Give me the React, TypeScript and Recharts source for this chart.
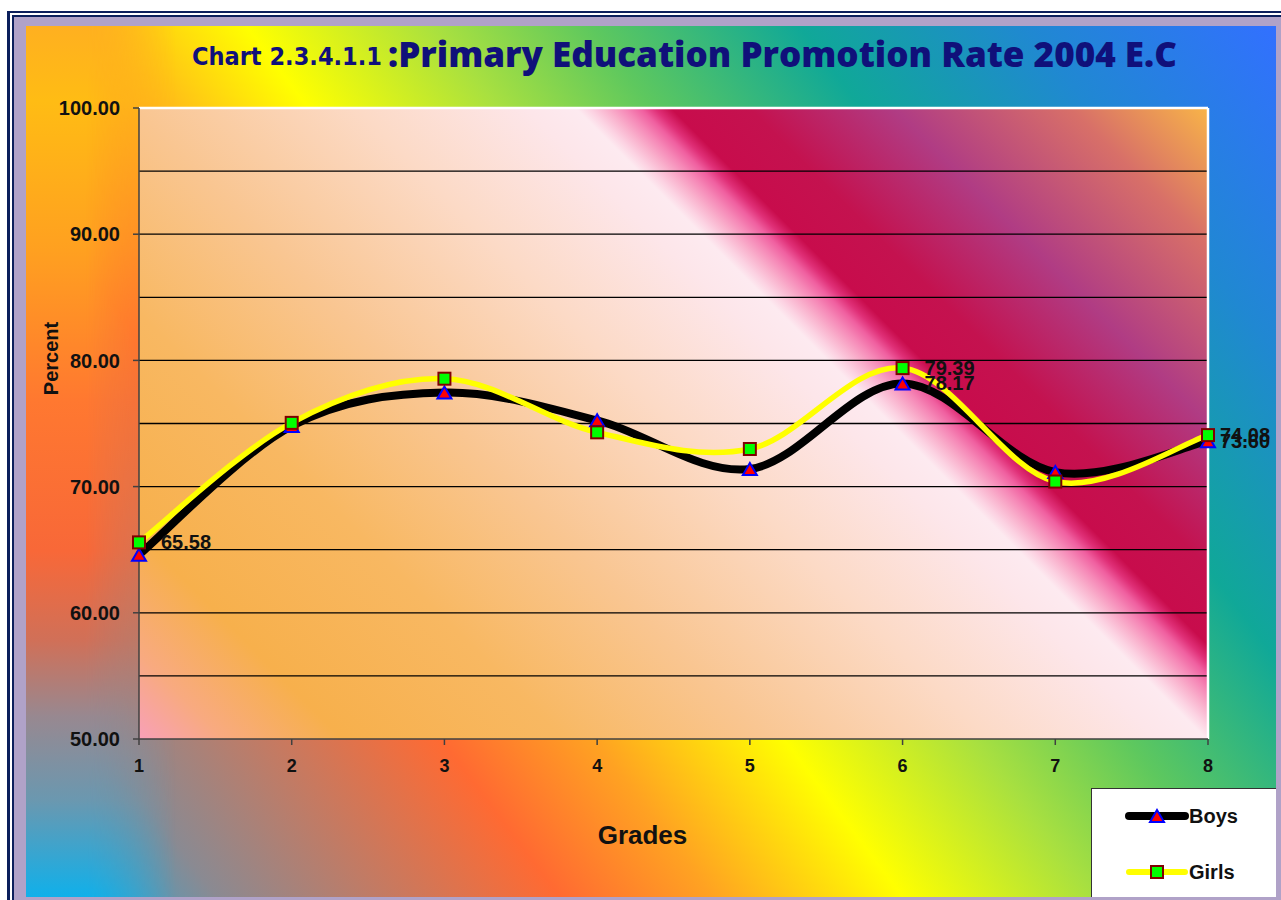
import React from 'react';
import { LineChart, Line, XAxis, YAxis, CartesianGrid, ReferenceLine, LabelList } from 'recharts';

// ---------- data ----------
const grades = [1, 2, 3, 4, 5, 6, 7, 8];
const boys = [64.6, 74.8, 77.45, 75.25, 71.4, 78.17, 71.15, 73.6];
const girls = [65.58, 75.05, 78.55, 74.3, 72.98, 79.39, 70.4, 74.08];
const yTicks = [50, 60, 70, 80, 90, 100];
const gridValues = [55, 60, 65, 70, 75, 80, 85, 90, 95];
const boysLabeled = [6, 8];
const girlsLabeled = [1, 6, 8];
const titleSmall = 'Chart 2.3.4.1.1';
const titleBig = ':Primary Education Promotion Rate 2004 E.C';

const data = grades.map((g, i) => ({ grade: g, boys: boys[i], girls: girls[i] }));

// ---------- styles ----------
const FONT = '"Liberation Sans", Arial, sans-serif';
const NAVY = '#10107a';
const W = 1281;
const H = 900;
const CHART_RIGHT = 1276;

// Excel-like smoothed line (Catmull-Rom as cubic Bezier)
const excelCurve = (context: any) => {
  let pts: [number, number][] = [];
  return {
    areaStart() {},
    areaEnd() {},
    lineStart() {
      pts = [];
    },
    point(x: number, y: number) {
      pts.push([+x, +y]);
    },
    lineEnd() {
      const n = pts.length;
      if (!n) return;
      context.moveTo(pts[0][0], pts[0][1]);
      for (let i = 0; i < n - 1; i++) {
        const p0 = pts[Math.max(i - 1, 0)];
        const p1 = pts[i];
        const p2 = pts[i + 1];
        const p3 = pts[Math.min(i + 2, n - 1)];
        context.bezierCurveTo(
          p1[0] + (p2[0] - p0[0]) / 6,
          p1[1] + (p2[1] - p0[1]) / 6,
          p2[0] - (p3[0] - p1[0]) / 6,
          p2[1] - (p3[1] - p1[1]) / 6,
          p2[0],
          p2[1]
        );
      }
    },
  };
};

const Triangle = ({ cx, cy }: { cx: number; cy: number }) => (
  <polygon
    points={`${cx},${cy - 6} ${cx - 7},${cy + 6} ${cx + 7},${cy + 6}`}
    fill="#ff0000"
    stroke="#0000ff"
    strokeWidth={2}
    strokeLinejoin="miter"
  />
);
const Square = ({ cx, cy }: { cx: number; cy: number }) => (
  <rect x={cx - 6} y={cy - 6} width={12} height={12} fill="#00ff00" stroke="#800000" strokeWidth={2} />
);

const renderTriangleDot = (props: any) => {
  const { cx, cy, index } = props;
  if (cx == null || cy == null) return <g key={`bt-${index}`} />;
  return <Triangle key={`bt-${index}`} cx={cx} cy={cy} />;
};
const renderSquareDot = (props: any) => {
  const { cx, cy, index } = props;
  if (cx == null || cy == null) return <g key={`gs-${index}`} />;
  return <Square key={`gs-${index}`} cx={cx} cy={cy} />;
};

const makeLabel = (labeled: number[]) => (props: any) => {
  const { x, y, value, index } = props;
  if (!labeled.includes(grades[index])) return null;
  const tx = Math.min(x + 22, CHART_RIGHT - 56);
  return (
    <text x={tx} y={y + 7} fontFamily={FONT} fontWeight="bold" fontSize={20} fill="#111">
      {Number(value).toFixed(2)}
    </text>
  );
};

const legendItems = [
  { name: 'Boys', color: '#000000', width: 8, marker: 'tri' },
  { name: 'Girls', color: '#ffff00', width: 6, marker: 'sq' },
];

const LegendBox = () => (
  <div
    style={{
      position: 'absolute',
      left: 1091,
      top: 788,
      width: 185,
      height: 109,
      background: '#ffffff',
      borderLeft: '1.5px solid #333',
      borderTop: '1.5px solid #333',
      boxSizing: 'border-box',
    }}
  >
    <svg width={184} height={108} style={{ display: 'block' }}>
      {legendItems.map((it, i) => {
        const y = 27 + i * 56;
        return (
          <g key={it.name}>
            <line x1={37} x2={93} y1={y} y2={y} stroke={it.color} strokeWidth={it.width} strokeLinecap="round" />
            {it.marker === 'tri' ? <Triangle cx={65} cy={y} /> : <Square cx={65} cy={y} />}
            <text x={97} y={y + 7} fontFamily={FONT} fontWeight="bold" fontSize={20} fill="#111">
              {it.name}
            </text>
          </g>
        );
      })}
    </svg>
  </div>
);

const outerGradient =
  'linear-gradient(53deg, #10b0ea 0%, #8a8a92 10%, #ff6a32 28%, #ffa222 36%, #ffff00 46%, #a8e040 56%, #5ec85e 64%, #10a898 75%, #2088d2 87%, #3270ff 100%)';

const leftStripGradient =
  'linear-gradient(to bottom, #ffb020 0px, #ffbc14 75px, #ffa020 225px, #ff7830 375px, #f86838 525px, #d07058 615px, #988890 690px, #6a98b0 775px, #10b0ea 871px)';

export default function App() {
  return (
    <div style={{ position: 'absolute', left: 0, top: 0, width: W, height: H, background: '#ffffff', overflow: 'hidden' }}>
      <div
        style={{
          position: 'absolute',
          left: 7,
          top: 11,
          right: -20,
          bottom: -20,
          borderLeft: '3px solid #0b1f5c',
          borderTop: '2px solid #0b1f5c',
        }}
      />
      <div
        style={{
          position: 'absolute',
          left: 12,
          top: 15,
          right: -20,
          bottom: -20,
          borderLeft: '2px solid #0b1f5c',
          borderTop: '2px solid #0b1f5c',
        }}
      />
      <div style={{ position: 'absolute', left: 14, top: 17, right: 0, bottom: 0, background: '#b0a2c8' }} />
      <div style={{ position: 'absolute', left: 26, top: 26, width: 1250, height: 871, background: outerGradient }} />
      <div
        style={{
          position: 'absolute',
          left: 26,
          top: 26,
          width: 150,
          height: 871,
          background: leftStripGradient,
          WebkitMaskImage: 'linear-gradient(to right, #000 0px, #000 60px, rgba(0,0,0,0) 150px)',
          maskImage: 'linear-gradient(to right, #000 0px, #000 60px, rgba(0,0,0,0) 150px)',
        }}
      />

      <svg width={0} height={0} style={{ position: 'absolute' }}>
        <defs>
          <linearGradient id="plotGrad" gradientUnits="userSpaceOnUse" x1={139} y1={739} x2={989} y2={-111}>
            <stop offset="0" stopColor="#f8a0b8" />
            <stop offset="0.05" stopColor="#f8aa80" />
            <stop offset="0.12" stopColor="#f7b04c" />
            <stop offset="0.25" stopColor="#f8b862" />
            <stop offset="0.37" stopColor="#f9c692" />
            <stop offset="0.5" stopColor="#fcdac6" />
            <stop offset="0.6" stopColor="#fde6ea" />
            <stop offset="0.628" stopColor="#fdeaf0" />
            <stop offset="0.636" stopColor="#fcd2e2" />
            <stop offset="0.646" stopColor="#f9b0cc" />
            <stop offset="0.656" stopColor="#f68ab8" />
            <stop offset="0.666" stopColor="#f060a0" />
            <stop offset="0.674" stopColor="#e03078" />
            <stop offset="0.684" stopColor="#c80c4c" />
            <stop offset="0.73" stopColor="#c4124f" />
            <stop offset="0.815" stopColor="#b03c84" />
            <stop offset="0.92" stopColor="#d87068" />
            <stop offset="1" stopColor="#f8b448" />
          </linearGradient>
        </defs>
      </svg>

      <div style={{ position: 'absolute', left: 0, top: 0 }}>
        <LineChart width={W} height={H} data={data} margin={{ top: 108, right: 73, left: 0, bottom: 0 }}>
          <CartesianGrid
            vertical={false}
            horizontalValues={gridValues}
            stroke="#000000"
            strokeWidth={1.3}
            fill="url(#plotGrad)"
            fillOpacity={1}
          />
          <ReferenceLine y={100} stroke="#ffffff" strokeWidth={2.5} />
          <ReferenceLine x={8} stroke="#ffffff" strokeWidth={2.5} />
          <XAxis
            dataKey="grade"
            height={161}
            tickSize={6}
            tickMargin={14}
            axisLine={{ stroke: '#404040', strokeWidth: 1.5 }}
            tickLine={{ stroke: '#404040', strokeWidth: 1.5 }}
            tick={{ fontSize: 18, fontWeight: 'bold', fill: '#111', fontFamily: FONT }}
            label={{
              content: (p: any) => {
                const vb = p.viewBox || { x: 139, y: 739, width: 1069 };
                return (
                  <text
                    x={vb.x + vb.width / 2 - 31}
                    y={vb.y + 105}
                    textAnchor="middle"
                    fontFamily={FONT}
                    fontWeight="bold"
                    fontSize={26}
                    fill="#111"
                  >
                    Grades
                  </text>
                );
              },
            }}
          />
          <YAxis
            width={139}
            domain={[50, 100]}
            ticks={yTicks}
            interval={0}
            tickSize={6}
            tickMargin={13}
            tickFormatter={(v: number) => v.toFixed(2)}
            axisLine={{ stroke: '#404040', strokeWidth: 1.5 }}
            tickLine={{ stroke: '#404040', strokeWidth: 1.5 }}
            tick={{ fontSize: 20, fontWeight: 'bold', fill: '#111', fontFamily: FONT }}
            label={{
              content: (p: any) => {
                const vb = p.viewBox || { x: 0, y: 108, height: 631 };
                const cx = vb.x + 58;
                const cy = vb.y + vb.height / 2 - 65;
                return (
                  <text
                    x={cx}
                    y={cy}
                    transform={`rotate(-90 ${cx} ${cy})`}
                    textAnchor="middle"
                    fontFamily={FONT}
                    fontWeight="bold"
                    fontSize={20}
                    fill="#111"
                  >
                    Percent
                  </text>
                );
              },
            }}
          />
          <Line
            dataKey="boys"
            name="Boys"
            type={excelCurve as any}
            stroke="#000000"
            strokeWidth={8}
            dot={renderTriangleDot}
            activeDot={false}
            isAnimationActive={false}
          >
            <LabelList dataKey="boys" content={makeLabel(boysLabeled)} />
          </Line>
          <Line
            dataKey="girls"
            name="Girls"
            type={excelCurve as any}
            stroke="#ffff00"
            strokeWidth={5.5}
            dot={renderSquareDot}
            activeDot={false}
            isAnimationActive={false}
          >
            <LabelList dataKey="girls" content={makeLabel(girlsLabeled)} />
          </Line>
        </LineChart>
      </div>

      <LegendBox />

      <svg width={W} height={110} style={{ position: 'absolute', left: 0, top: 0, pointerEvents: 'none' }}>
        <text
          x={192}
          y={65}
          fontFamily='"DejaVu Sans", sans-serif'
          fontWeight="bold"
          fontSize={25}
          fill={NAVY}
          textLength={190}
          lengthAdjust="spacingAndGlyphs"
        >
          {titleSmall}
        </text>
        <text
          x={388}
          y={67}
          fontFamily='"Open Sans", sans-serif'
          fontWeight="800"
          fontSize={36}
          fill={NAVY}
          textLength={789}
          lengthAdjust="spacingAndGlyphs"
        >
          {titleBig}
        </text>
      </svg>
    </div>
  );
}
